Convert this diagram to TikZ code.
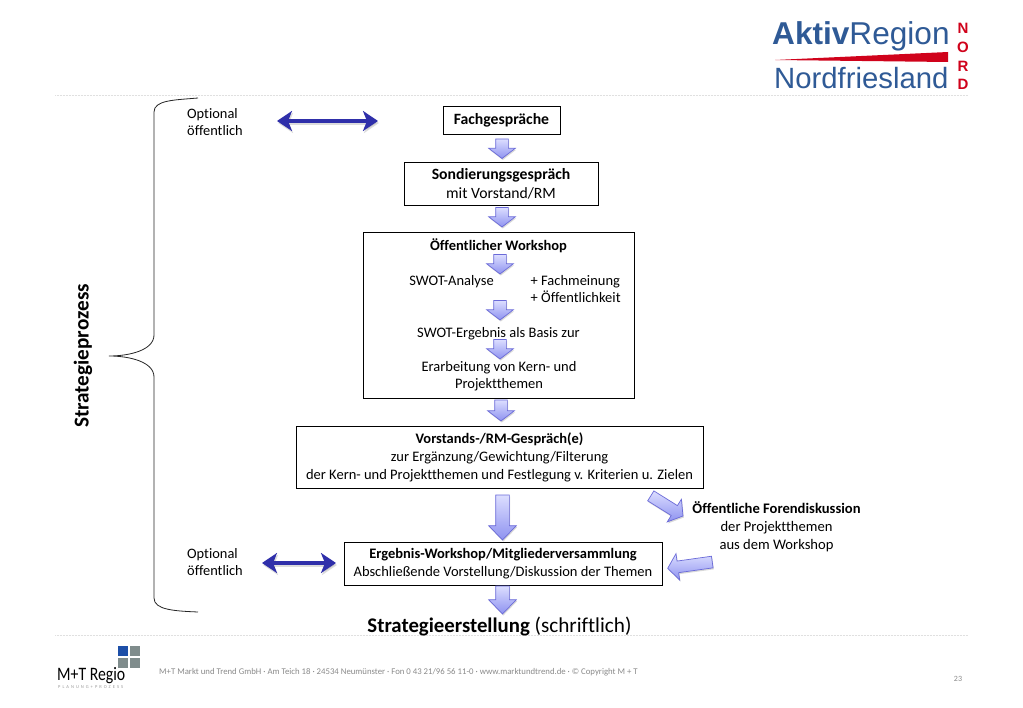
\documentclass[tikz,border=0pt]{standalone}
\usepackage{graphicx}
\usepackage{fontspec}
\setmainfont[Ligatures=NoCommon]{Carlito}
\newfontfamily\logofont{Liberation Sans}
\usetikzlibrary{arrows.meta,shapes.arrows,shadows,calc}
\definecolor{arrowedge}{HTML}{6A6AD8}
\definecolor{arrowtop}{HTML}{DCDEFF}
\definecolor{arrowbot}{HTML}{8E92F0}
\definecolor{dblue}{HTML}{2F2FAA}
\definecolor{logoblue}{HTML}{2F5A96}
\definecolor{logored}{HTML}{D0021B}
\definecolor{footgrey}{HTML}{8A8A8A}
\definecolor{rulegrey}{HTML}{E0E0E0}
\definecolor{sqblue}{HTML}{1D4FA8}
\definecolor{sqgrey}{HTML}{7F8C8C}
\tikzset{
  x=1pt,y=-1pt,
  procbox/.style={draw=black,line width=.8pt,fill=white,align=center,inner sep=0pt,font=\fontsize{14.5}{18}\selectfont},
  plain/.style={align=center,inner sep=0pt,font=\fontsize{14.5}{17.5}\selectfont},
  leftlabel/.style={align=left,anchor=north west,inner sep=0pt,font=\fontsize{14.4}{17.5}\selectfont},
  blockarrow/.style={single arrow,anchor=tip,draw=arrowedge,line width=.7pt,inner xsep=0pt,inner ysep=6pt,outer sep=0pt,
    top color=arrowtop,bottom color=arrowbot,rotate=#1,
    single arrow head indent=0pt,single arrow head extend=7pt,single arrow tip angle=105,
    minimum height=19.5pt,
    drop shadow={shadow xshift=.8pt,shadow yshift=-1.5pt,fill=black!30,opacity=.5}},
  dbl/.style={draw=dblue,line width=4pt,{Stealth[length=15pt,width=20pt,inset=4pt]}-{Stealth[length=15pt,width=20pt,inset=4pt]}},
  dblshadow/.style={draw=black!45,opacity=.3,line width=4pt,{Stealth[length=15pt,width=20pt,inset=4pt]}-{Stealth[length=15pt,width=20pt,inset=4pt]}},
  rulerow/.style={draw=rulegrey,line width=.5pt,densely dotted},
}
\begin{document}
\begin{tikzpicture}
\useasboundingbox (0,0) rectangle (1023,708);
\fill[white] (0,0) rectangle (1023,708);
% rules
\coordinate (ruleAa) at (55,95); \coordinate (ruleAb) at (968,95);
\coordinate (ruleBa) at (55,635); \coordinate (ruleBb) at (968,635);
\draw[rulerow] (ruleAa) -- (ruleAb);
\draw[rulerow] (ruleBa) -- (ruleBb);
% logo
\node[anchor=base west,inner sep=0pt,text=logoblue,font=\logofont\fontsize{31.6}{34}\selectfont] (logoA) at (772,45) {\textbf{Aktiv}Region};
\node[anchor=base west,inner sep=0pt,text=logoblue,font=\logofont\fontsize{29.3}{34}\selectfont] (logoB) at (774,89) {Nordfriesland};
\fill[logored] (775,60) -- (948,52) -- (948,62) -- cycle;
\foreach \ch/\yy/\nm in {N/34/a,O/53/b,R/72/c,D/90/d}{
  \node[anchor=base,inner sep=0pt,text=logored,font=\logofont\bfseries\fontsize{15}{15}\selectfont] (nord\nm) at (963,\yy) {\ch};
}
% brace
\draw[line width=.8pt,black!85] (198,98) .. controls (175,100) and (154,100) .. (154,112)
  -- (154,335) .. controls (154,350) and (130,356) .. (109,356)
  .. controls (130,356) and (154,362) .. (154,377)
  -- (154,598) .. controls (154,610) and (175,611) .. (198,612);
\node[rotate=90,inner sep=0pt,font=\bfseries\fontsize{21.2}{21}\selectfont] (sp) at (83,356) {Strategieprozess};
% left labels
\node[leftlabel] (optA) at (187,108) {Optional\\öffentlich};
\node[leftlabel] (optB) at (187,548) {Optional\\öffentlich};
% boxes
\node[procbox,minimum width=117pt,minimum height=28pt,font=\fontsize{15.7}{19}\selectfont] (fach) at (501.5,120) {\raisebox{-1pt}{\textbf{Fachgespräche}}};
\node[procbox,minimum width=194pt,minimum height=43pt,font=\fontsize{15.7}{19}\selectfont] (sond) at (501,183.5) {\raisebox{-1.5pt}{\textbf{Sondierungsgespräch}}\\\raisebox{-1.5pt}{mit Vorstand/RM}};
\node[procbox,minimum width=271pt,minimum height=166pt] (work) at (498.5,315) {};
\node[procbox,minimum width=407pt,minimum height=62pt] (vor) at (499.5,457) {\textbf{Vorstands-/RM-Gespräch(e)}\\zur Ergänzung/Gewichtung/Filterung\\der Kern- und Projektthemen und Festlegung v. Kriterien u. Zielen};
\node[procbox,minimum width=318pt,minimum height=43pt] (erg) at (503,563.5) {\raisebox{-1.5pt}{\textbf{Ergebnis-Workshop/Mitgliederversammlung}}\\\raisebox{-1.5pt}{Abschließende Vorstellung/Diskussion der Themen}};
% workshop texts
\node[plain] (wt) at (498.5,246) {\textbf{Öffentlicher Workshop}};
\node[plain] (swot) at (451.5,281.5) {SWOT-Analyse};
\node[plain,align=left,anchor=north west,font=\fontsize{14.5}{17}\selectfont] (fm) at (530.5,275) {+ Fachmeinung\\+ Öffentlichkeit};
\node[plain] (erg1) at (498.5,333.5) {SWOT-Ergebnis als Basis zur};
\node[plain] (erg2) at (499,376) {Erarbeitung von Kern- und\\Projektthemen};
% forum
\node[plain,font=\fontsize{14.6}{18}\selectfont] (forum) at (776.5,527) {\textbf{Öffentliche Forendiskussion}\\der Projektthemen\\aus dem Workshop};
\node[plain] (strat) at (499.5,627) {\fontsize{20.8}{24}\selectfont\textbf{Strategieerstellung} {\fontsize{21.2}{24}\selectfont(schriftlich)}};
% block arrows
\node[blockarrow=-90] (ba) at (502,158.5) {};
\node[blockarrow=-90] (bb) at (502,227) {};
\node[blockarrow=-90] (bc) at (500,274) {};
\node[blockarrow=-90] (bd) at (500,320) {};
\node[blockarrow=-90] (be) at (500,359) {};
\node[blockarrow=-90,minimum height=21pt] (bf) at (501,421) {};
\node[blockarrow=-90,minimum height=45pt,inner ysep=6.5pt,single arrow tip angle=88] (bg) at (502.5,540) {};
\node[blockarrow=-90,minimum height=28pt,inner ysep=6.5pt,single arrow tip angle=88] (bh) at (502.5,614) {};
\node[blockarrow=-32,minimum height=38pt,inner ysep=5.5pt,single arrow head extend=7.5pt] (bi) at (683,516) {};
\node[blockarrow=188,minimum height=45pt,inner ysep=5.5pt,single arrow head extend=7.5pt] (bj) at (667.7,568.3) {};
% double arrows
\coordinate (daL) at (277,121); \coordinate (daR) at (378,121);
\coordinate (dbL) at (262,563); \coordinate (dbR) at (336,563);
\draw[dblshadow,transform canvas={xshift=1pt,yshift=-2pt}] (daL) -- (daR);
\draw[dblshadow,transform canvas={xshift=1pt,yshift=-2pt}] (dbL) -- (dbR);
\draw[dbl] (daL) -- (daR);
\draw[dbl] (dbL) -- (dbR);
% footer
\fill[sqblue] (118,646) rectangle (128,656);
\fill[sqgrey] (129.5,646) rectangle (140,656);
\fill[sqgrey] (118,657.5) rectangle (128,668);
\fill[sqgrey] (129.5,657.5) rectangle (140,668);
\node[anchor=base west,inner sep=0pt,font=\fontsize{19}{19}\selectfont] (mt) at (57,680) {\scalebox{.83}[1]{M+T Regio}};
\node[anchor=base west,inner sep=0pt,text=black!40,font=\fontsize{4.5}{5}\selectfont\addfontfeature{LetterSpace=45}] (mts) at (58,688) {PLANUNG+PROZESS};
\node[anchor=base west,inner sep=0pt,text=footgrey,font=\fontsize{8.75}{9}\selectfont] (foot) at (159,674) {M+T Markt und Trend GmbH · Am Teich 18 · 24534 Neumünster · Fon 0 43 21/96 56 11-0 · www.marktundtrend.de · © Copyright M + T};
\node[anchor=base,inner sep=0pt,text=footgrey,font=\fontsize{8}{9}\selectfont] (pg) at (958,681) {23};
\end{tikzpicture}
\end{document}
